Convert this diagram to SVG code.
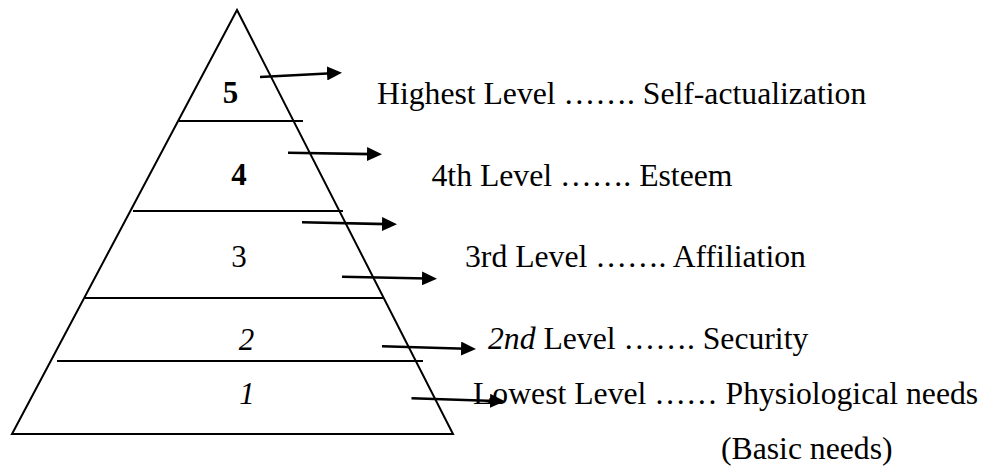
<svg xmlns="http://www.w3.org/2000/svg" width="988" height="470" viewBox="0 0 988 470">
<style>
.ln{stroke:#000;stroke-width:2;fill:none}
.ar{stroke:#000;stroke-width:2.6;fill:none;marker-end:url(#ah)}
.t{font-family:"Liberation Serif","Times New Roman",serif;font-size:31.7px;fill:#000}
.n{font-family:"Liberation Serif","Times New Roman",serif;font-size:31px;fill:#000;text-anchor:middle}
</style>
<defs>
<marker id="ah" viewBox="0 0 15 14" markerWidth="15" markerHeight="14" refX="5" refY="7" orient="auto" markerUnits="userSpaceOnUse">
<path d="M0,0 L15,7 L0,14 z" fill="#000"/>
</marker>
</defs>
<rect width="988" height="470" fill="#fff"/>
<g id="pyramid">
<path class="ln" d="M237,10 L12,434 L453,434 Z"/>
<line class="ln" x1="179" y1="121" x2="303" y2="121"/>
<line class="ln" x1="133" y1="211" x2="343" y2="211"/>
<line class="ln" x1="85" y1="298" x2="383" y2="298"/>
<line class="ln" x1="57" y1="361" x2="423" y2="361"/>
</g>
<g id="level5">
<text class="n" x="230.5" y="103" font-weight="bold">5</text>
<text class="t" x="377" y="104">Highest Level ……. Self-actualization</text>
</g>
<g id="level4">
<text class="n" x="239" y="185" font-weight="bold">4</text>
<text class="t" x="431.5" y="186">4th Level ……. Esteem</text>
</g>
<g id="level3">
<text class="n" x="239" y="267">3</text>
<text class="t" x="465" y="267">3rd Level ……. Affiliation</text>
</g>
<g id="level2">
<text class="n" x="246.5" y="350" font-style="italic">2</text>
<text class="t" x="488" y="349"><tspan font-style="italic">2nd</tspan> Level ……. Security</text>
</g>
<g id="level1">
<text class="n" x="247" y="404" font-style="italic">1</text>
<text class="t" x="473" y="404">Lowest Level …… Physiological needs</text>
<text class="t" x="721" y="459">(Basic needs)</text>
</g>
<g id="connectors">
<line class="ar" x1="260" y1="77" x2="332" y2="73.2"/>
<line class="ar" x1="288" y1="152.7" x2="372" y2="154.1"/>
<line class="ar" x1="302" y1="222.3" x2="387" y2="224.1"/>
<line class="ar" x1="342" y1="276.7" x2="427" y2="278.5"/>
<line class="ar" x1="382" y1="346.3" x2="466" y2="348.7"/>
<line class="ar" x1="411.5" y1="398.3" x2="495" y2="401"/>
</g>
</svg>
